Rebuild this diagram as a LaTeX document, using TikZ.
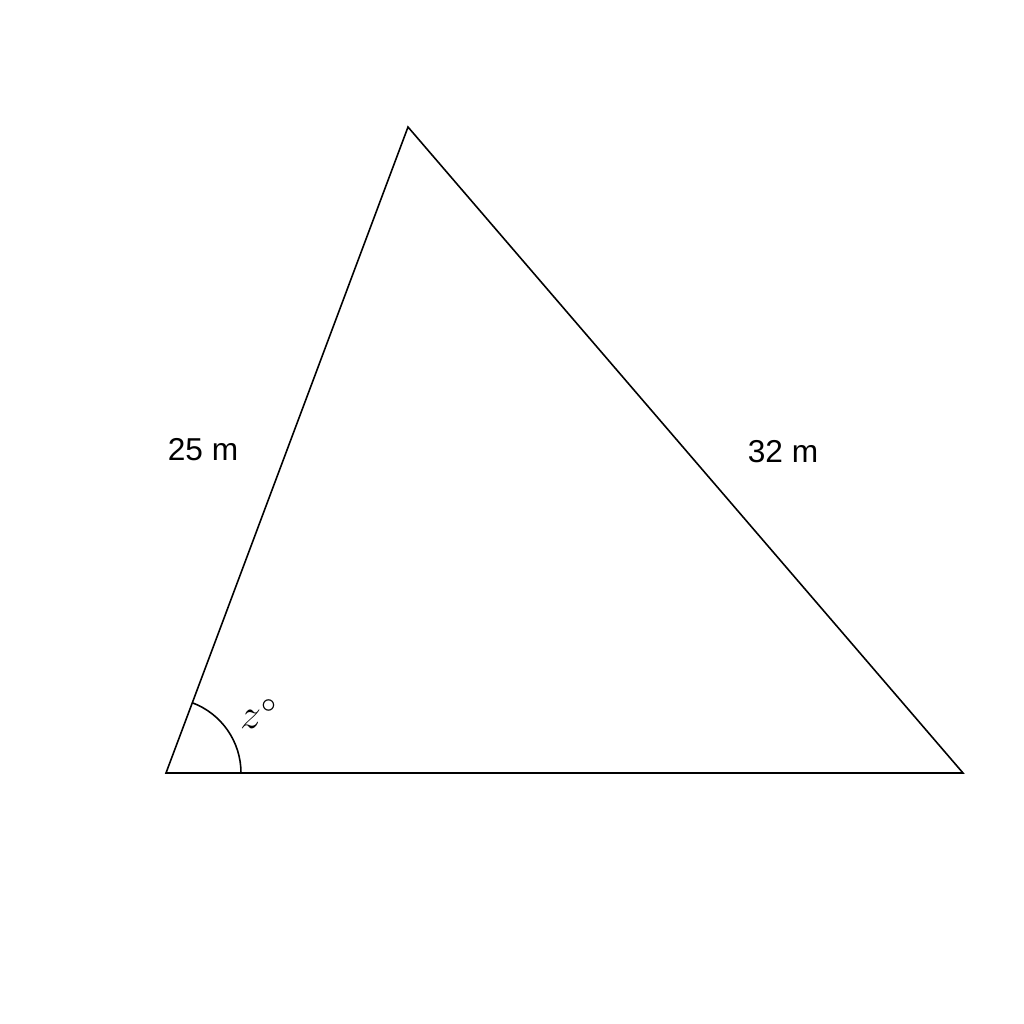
\documentclass[tikz,border=0pt]{standalone}
\usepackage{fontspec}
\newfontfamily\labelfont{Liberation Sans}
\begin{document}
\begin{tikzpicture}[x=0.01cm,y=0.01cm,
  edge/.style={line width=0.45pt, line join=miter},
  lbl/.style={font=\labelfont\fontsize{9}{10}\selectfont, inner sep=0pt}]
\useasboundingbox[fill=white] (0,0) rectangle (1024,1024);
\coordinate (A) at (166,251);
\coordinate (B) at (408,897);
\coordinate (C) at (963,251);
\draw[edge] (A) -- (B) -- (C) -- cycle;
\draw[edge] ([shift={(75,0)}]A) arc[start angle=0, end angle=69.5, radius=75];
\node[lbl] (s1) at (203,574) {25 m};
\node[lbl] (s2) at (783,572) {32 m};
\node[inner sep=0pt, font=\fontsize{12}{14}\selectfont] (z) at (259,310) {$z^\circ$};
\end{tikzpicture}
\end{document}
